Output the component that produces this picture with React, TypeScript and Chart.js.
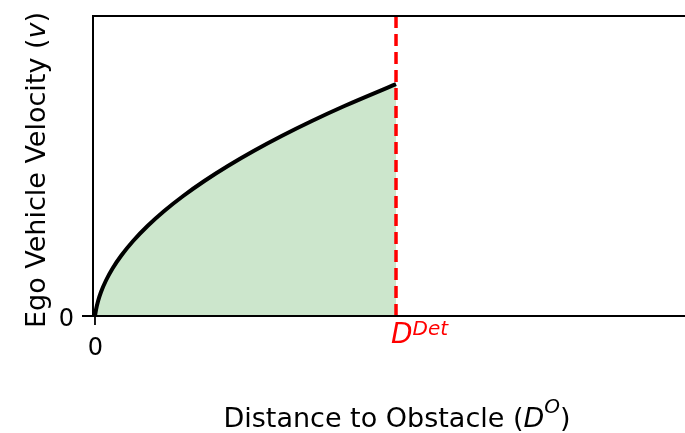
import { useEffect, useRef } from "react";
import { Chart, registerables } from "chart.js";

Chart.register(...registerables);

// Stopping-velocity envelope up to the detection distance
const distance = [0, 0.0032, 0.0103, 0.02, 0.0373, 0.0593, 0.0862, 0.1266, 0.1745, 0.2299, 0.2929, 0.3633, 0.4414, 0.5269, 0.6199, 0.7205, 0.8286, 1.0];
const velocity = [0, 0.02, 0.05, 0.08, 0.12, 0.16, 0.2, 0.25, 0.3, 0.35, 0.4, 0.45, 0.5, 0.55, 0.6, 0.65, 0.7, 0.773];
const detectionDistance = 1.0;
const xTicks = [0];
const yTicks = [0];
const xRange = [-0.0066, 1.96];
const yRange = [0, 1];

const FONT = "'DejaVu Sans', sans-serif";

type Run = { text: string; italic?: boolean; sup?: boolean };

function drawRuns(
  ctx: CanvasRenderingContext2D,
  runs: Run[],
  x0: number,
  baseline: number,
  size: number,
  supSize: number,
  supRise: number,
  color: string,
  align: "center" | "left" = "center"
) {
  const fontFor = (r: Run) => `${r.italic ? "italic " : ""}${r.sup ? supSize : size}px ${FONT}`;
  let total = 0;
  const widths = runs.map((r) => {
    ctx.font = fontFor(r);
    const w = ctx.measureText(r.text).width;
    total += w;
    return w;
  });
  let x = align === "center" ? x0 - total / 2 : x0;
  ctx.fillStyle = color;
  ctx.textBaseline = "alphabetic";
  ctx.textAlign = "left";
  runs.forEach((r, i) => {
    ctx.font = fontFor(r);
    ctx.fillText(r.text, x, baseline - (r.sup ? supRise : 0));
    x += widths[i];
  });
}

const axesPlugin = {
  id: "axesDecor",
  afterDraw(chart: any) {
    const ctx: CanvasRenderingContext2D = chart.ctx;
    const { left, top, right, bottom } = chart.chartArea;
    const xs = chart.scales.x;
    const ys = chart.scales.y;
    ctx.save();
    ctx.strokeStyle = "#000";
    ctx.lineWidth = 2;
    ctx.beginPath();
    ctx.moveTo(left, top);
    ctx.lineTo(left, bottom);
    ctx.moveTo(left - 1, top);
    ctx.lineTo(right, top);
    ctx.moveTo(left - 1, bottom);
    ctx.lineTo(right, bottom);
    ctx.stroke();

    // tick marks
    ctx.lineWidth = 1.8;
    ctx.beginPath();
    xTicks.forEach((t) => {
      const px = xs.getPixelForValue(t);
      ctx.moveTo(px, bottom);
      ctx.lineTo(px, bottom + 9);
    });
    yTicks.forEach((t) => {
      const py = ys.getPixelForValue(t);
      ctx.moveTo(left, py);
      ctx.lineTo(left - 11, py);
    });
    ctx.stroke();

    // tick labels
    ctx.font = `24px ${FONT}`;
    ctx.fillStyle = "#000";
    ctx.textAlign = "center";
    ctx.textBaseline = "alphabetic";
    xTicks.forEach((t) => ctx.fillText(String(t), xs.getPixelForValue(t) + 0.5, bottom + 39));
    ctx.textAlign = "right";
    yTicks.forEach((t) => ctx.fillText(String(t), left - 19, ys.getPixelForValue(t) + 10));

    // detection distance label
    const dx = xs.getPixelForValue(detectionDistance);
    drawRuns(ctx, [{ text: "D", italic: true }, { text: "Det", italic: true, sup: true }], dx - 5, bottom + 27, 28, 20, 8, "#ff0000", "left");

    // axis titles
    drawRuns(ctx, [{ text: "Distance to Obstacle (" }, { text: "D", italic: true }, { text: "O", italic: true, sup: true }, { text: ")" }], 397, 427, 27, 20, 14, "#000");

    ctx.translate(45, 170);
    ctx.rotate(-Math.PI / 2);
    drawRuns(ctx, [{ text: "Ego Vehicle Velocity (" }, { text: "v", italic: true }, { text: ")" }], 0, 0, 27, 20, 0, "#000");
    ctx.restore();
  },
};

export default function App() {
  const ref = useRef<HTMLCanvasElement | null>(null);

  useEffect(() => {
    if (!ref.current) return;
    const curve = distance.map((d, i) => ({ x: d, y: velocity[i] }));
    const chart = new Chart(ref.current, {
      type: "line",
      data: {
        datasets: [
          {
            data: [
              { x: detectionDistance, y: yRange[0] },
              { x: detectionDistance, y: yRange[1] },
            ],
            borderColor: "#ff0000",
            borderWidth: 3.5,
            borderDash: [12, 6],
            pointRadius: 0,
            fill: false,
            order: 0,
          },
          {
            data: curve,
            borderColor: "#000000",
            borderWidth: 4,
            backgroundColor: "rgba(0,128,0,0.2)",
            fill: "origin",
            pointRadius: 0,
            cubicInterpolationMode: "monotone",
            order: 1,
          },
        ],
      },
      options: {
        responsive: false,
        animation: false,
        devicePixelRatio: 1,
        layout: { padding: { top: 16, right: 0, left: 0, bottom: 0 } },
        plugins: { legend: { display: false }, tooltip: { enabled: false } },
        scales: {
          x: {
            type: "linear",
            min: xRange[0],
            max: xRange[1],
            ticks: { display: false },
            grid: { display: false },
            border: { display: false },
            afterFit: (s: any) => {
              s.height = 117;
            },
          },
          y: {
            type: "linear",
            min: yRange[0],
            max: yRange[1],
            ticks: { display: false },
            grid: { display: false },
            border: { display: false },
            afterFit: (s: any) => {
              s.width = 93;
            },
          },
        },
      },
      plugins: [axesPlugin],
    });
    return () => chart.destroy();
  }, []);

  return (
    <div style={{ position: "fixed", left: 0, top: 0, width: 685, height: 433, background: "#fff" }}>
      <canvas ref={ref} width={685} height={433} style={{ width: 685, height: 433 }} />
    </div>
  );
}
